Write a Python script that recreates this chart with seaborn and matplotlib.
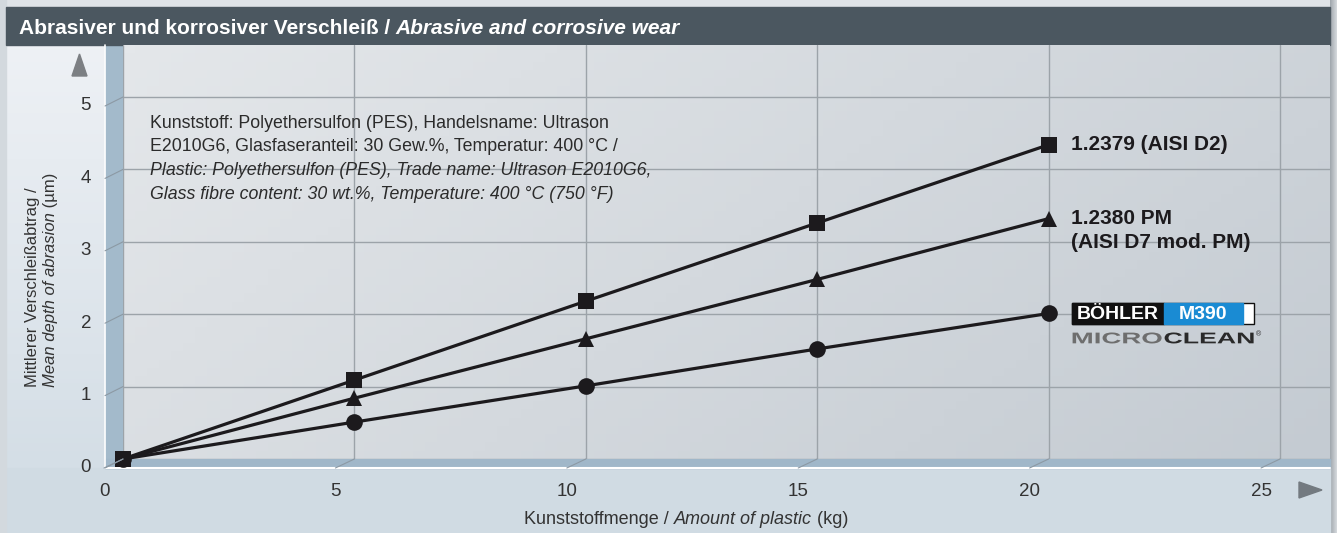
import numpy as np
import pandas as pd
import seaborn as sns
import matplotlib.pyplot as plt
from matplotlib.lines import Line2D
from matplotlib.patches import Rectangle, Polygon, PathPatch
from matplotlib.textpath import TextPath
from matplotlib.font_manager import FontProperties
from matplotlib.transforms import IdentityTransform, ScaledTranslation, Affine2D
from matplotlib.colors import LinearSegmentedColormap

# Werte (Rückwand-Koordinaten)
kg = [0, 5, 10, 15, 20]
d2 = [0.0, 1.09, 2.18, 3.26, 4.34]      # 1.2379 (AISI D2)
d7 = [0.0, 0.84, 1.66, 2.48, 3.32]      # 1.2380 PM
m390 = [0.0, 0.51, 1.01, 1.52, 2.01]    # BÖHLER M390 MICROCLEAN
x_ticks = [0, 5, 10, 15, 20, 25]
y_ticks = [0, 1, 2, 3, 4, 5]
info_lines = [
    "Kunststoff: Polyethersulfon (PES), Handelsname: Ultrason",
    "E2010G6, Glasfaseranteil: 30 Gew.%, Temperatur: 400 °C /",
    "Plastic: Polyethersulfon (PES), Trade name: Ultrason E2010G6,",
    "Glass fibre content: 30 wt.%, Temperature: 400 °C (750 °F)",
]

df = pd.concat([
    pd.DataFrame({"kg": kg, "abtrag": d2, "stahl": "d2"}),
    pd.DataFrame({"kg": kg, "abtrag": d7, "stahl": "d7"}),
    pd.DataFrame({"kg": kg, "abtrag": m390, "stahl": "m390"}),
])

sns.set_style("white")
plt.rcParams["font.family"] = ["Liberation Sans", "DejaVu Sans"]

W, H = 1337, 533
fig = plt.figure(figsize=(W / 100, H / 100), dpi=100)
fig.patch.set_facecolor("#dfe3e7")
IT = IdentityTransform()

def px(x, y):
    # Pixel von oben links -> Display
    return x, H - y

def dtext(x, y, s, **kw):
    t = fig.text(0, 0, s, **kw)
    t.set_transform(IT)
    t.set_position((x, y))
    return t

def stretched(s, x0, x1, y0, y1, color):
    # Schriftzug in eine Box einpassen (breite Logo-Schrift)
    tp = TextPath((0, 0), s, size=10, prop=FontProperties(family="Liberation Sans", weight="bold"))
    ext = tp.get_extents()
    tr = (Affine2D().translate(-ext.x0, -ext.y0)
          .scale((x1 - x0) / ext.width, (y1 - y0) / ext.height).translate(x0, y0))
    fig.add_artist(PathPatch(tr.transform_path(tp), transform=IT, facecolor=color,
                             edgecolor="none"))

# Hintergrundflächen
bg = fig.add_axes([0, 0, 1, 1], zorder=-5)
bg.axis("off")
grad_l = np.linspace(0, 1, 100).reshape(-1, 1)
bg.imshow(grad_l, extent=[6, 105, 468, 45], aspect="auto",
          cmap=LinearSegmentedColormap.from_list("l", ["#eef1f5", "#d4dee6"]))
bg.add_patch(Rectangle((6, 468), 1324, 70, color="#d0dbe3"))
bg.add_patch(Rectangle((0, 0), 6, H, color="#d3d9de"))
bg.imshow(np.linspace(0, 1, 50).reshape(1, -1), extent=[1330, W, H, 0], aspect="auto",
          cmap=LinearSegmentedColormap.from_list("r", ["#9fa6ac", "#d6dade"]))
bg.add_patch(Rectangle((105, 45), 18, 423, color="#a3bacb"))
bg.add_patch(Rectangle((105, 459), 1225, 9, color="#a0b7c9"))
bg.add_patch(Rectangle((6, 7), 1324, 38, color="#4b5760"))
bg.plot([105, 1330], [468, 468], color="white", lw=1.5)
bg.plot([105, 105], [45, 468], color="white", lw=1.2)
bg.set_xlim(0, W); bg.set_ylim(H, 0)

# Hauptachse = Rückwand
xmax, ymax = 1207 / 46.28, 414 / 72.4
ax = fig.add_axes([123 / W, (H - 459) / H, 1207 / W, 414 / H])
yy, xx = np.mgrid[0:1:50j, 0:1:100j]
ax.imshow(0.7 * xx + 0.3 * (1 - yy), extent=[0, xmax, 0, ymax], aspect="auto", origin="lower",
          cmap=LinearSegmentedColormap.from_list("w", ["#e4e7ea", "#c4cbd2"]), zorder=0)

sns.lineplot(data=df, x="kg", y="abtrag", style="stahl", style_order=["m390", "d7", "d2"],
             markers={"d2": "s", "d7": "^", "m390": "o"}, dashes=False,
             color="#1c1a1d", linewidth=2.3, markersize=12, markeredgewidth=0,
             legend=False, ax=ax, zorder=5, clip_on=False)
ax.set_xlabel(""); ax.set_ylabel("")
ax.set_xlim(0, xmax)
ax.set_ylim(0, ymax)
for s in ax.spines.values():
    s.set_visible(False)
ax.set_xticks(x_ticks)
ax.set_yticks(y_ticks)
ax.grid(True, color="#9ca3a9", lw=1, zorder=1)
ax.tick_params(length=0, labelsize=13.5, labelcolor="#333333")
ax.tick_params(axis="x", pad=17)
ax.tick_params(axis="y", pad=23)
for lab in ax.get_xticklabels():
    lab.set_transform(lab.get_transform() + ScaledTranslation(-0.19, 0, fig.dpi_scale_trans))
for lab in ax.get_yticklabels():
    lab.set_transform(lab.get_transform() + ScaledTranslation(0, -0.07, fig.dpi_scale_trans))

# Schräge Linien (Pseudo-3D)
fig.canvas.draw()
for xv in x_ticks:
    bx, by = ax.transData.transform((xv, 0))
    fig.add_artist(Line2D([bx, bx - 19], [by, by - 9], transform=IT, color="#8c99a4", lw=0.8))
for yv in y_ticks:
    bx, by = ax.transData.transform((0, yv))
    fig.add_artist(Line2D([bx, bx - 18], [by, by - 9], transform=IT, color="#8c99a4", lw=0.8))

# Pfeile
fig.add_artist(Polygon([px(72, 76), px(87, 76), px(79.5, 54)], closed=True,
                       transform=IT, color="#7c7f83"))
fig.add_artist(Polygon([px(1299, 482), px(1299, 498), px(1322, 490)], closed=True,
                       transform=IT, color="#737a80"))

# Titel
t = fig.text(19 / W, 1 - 26 / H, "Abrasiver und korrosiver Verschleiß / ", color="white",
             fontsize=15, fontweight="bold", va="center_baseline")
ax.annotate("Abrasive and corrosive wear", xy=(1, 0), xycoords=t, va="bottom",
            color="white", fontsize=15, fontweight="bold", style="italic")

# Achsentitel
t = fig.text(0, 0, "Kunststoffmenge / ", fontsize=13, color="#333333")
t2 = ax.annotate("Amount of plastic", xy=(1, 0), xycoords=t, va="bottom",
                 fontsize=13, color="#333333", style="italic")
t3 = ax.annotate(" (kg)", xy=(1, 0), xycoords=t2, va="bottom", fontsize=13, color="#333333")
fig.canvas.draw()
w = t.get_window_extent().width + t2.get_window_extent().width + t3.get_window_extent().width
t.set_position(((686 - w / 2) / W, 1 - 524 / H))

t = fig.text(33 / W, 1 - 387 / H, "Mittlerer Verschleißabtrag /", fontsize=12, color="#333333",
             rotation=90, ha="center", va="bottom")
t = fig.text(51 / W, 1 - 387 / H, "Mean depth of abrasion", fontsize=12, color="#333333",
             rotation=90, ha="center", va="bottom", style="italic")
ax.annotate(" (µm)", xy=(0.5, 1), xycoords=t, ha="center", va="bottom", rotation=90,
            fontsize=12, color="#333333")

# Info-Text
for i, line in enumerate(info_lines):
    fig.text(150 / W, 1 - (123 + 23.7 * i) / H, line, fontsize=12.8, color="#2b2b2b",
             va="center", style="italic" if i >= 2 else "normal")

# Bezeichnungen
ax.annotate("1.2379 (AISI D2)", xy=(kg[-1], d2[-1]), xytext=(22, 0), textcoords="offset pixels",
            va="center", fontsize=15, fontweight="bold", color="#1c1a1d")
ax.annotate("1.2380 PM", xy=(kg[-1], d7[-1]), xytext=(22, 0), textcoords="offset pixels",
            va="center", fontsize=15, fontweight="bold", color="#1c1a1d")
ax.annotate("(AISI D7 mod. PM)", xy=(kg[-1], d7[-1]), xytext=(22, -24), textcoords="offset pixels",
            va="center", fontsize=15, fontweight="bold", color="#1c1a1d")

# Logo M390
lx, ly = ax.transData.transform((kg[-1], m390[-1]))
lx += 23
fig.add_artist(Rectangle((lx, ly - 11), 182, 21, transform=IT,
                         facecolor="white", edgecolor="#111111", lw=1))
fig.add_artist(Rectangle((lx, ly - 11), 92, 21, transform=IT, color="#111111"))
fig.add_artist(Rectangle((lx + 92, ly - 11), 79, 21, transform=IT, color="#1a8bd3"))
dtext(lx + 46, ly - 1, "BÖHLER", ha="center", va="center", color="white",
      fontsize=14, fontweight="bold")
dtext(lx + 131, ly - 1, "M390", ha="center", va="center", color="white",
      fontsize=14, fontweight="bold")
stretched("MICRO", lx + 1, lx + 90, ly - 30, ly - 19, "#6e6e6e")
stretched("CLEAN", lx + 93, lx + 182, ly - 30, ly - 19, "#2a2a2a")
dtext(lx + 187, ly - 21, "®", ha="center", va="center", fontsize=5, color="#2a2a2a")

fig.savefig("out.png", dpi=100)
